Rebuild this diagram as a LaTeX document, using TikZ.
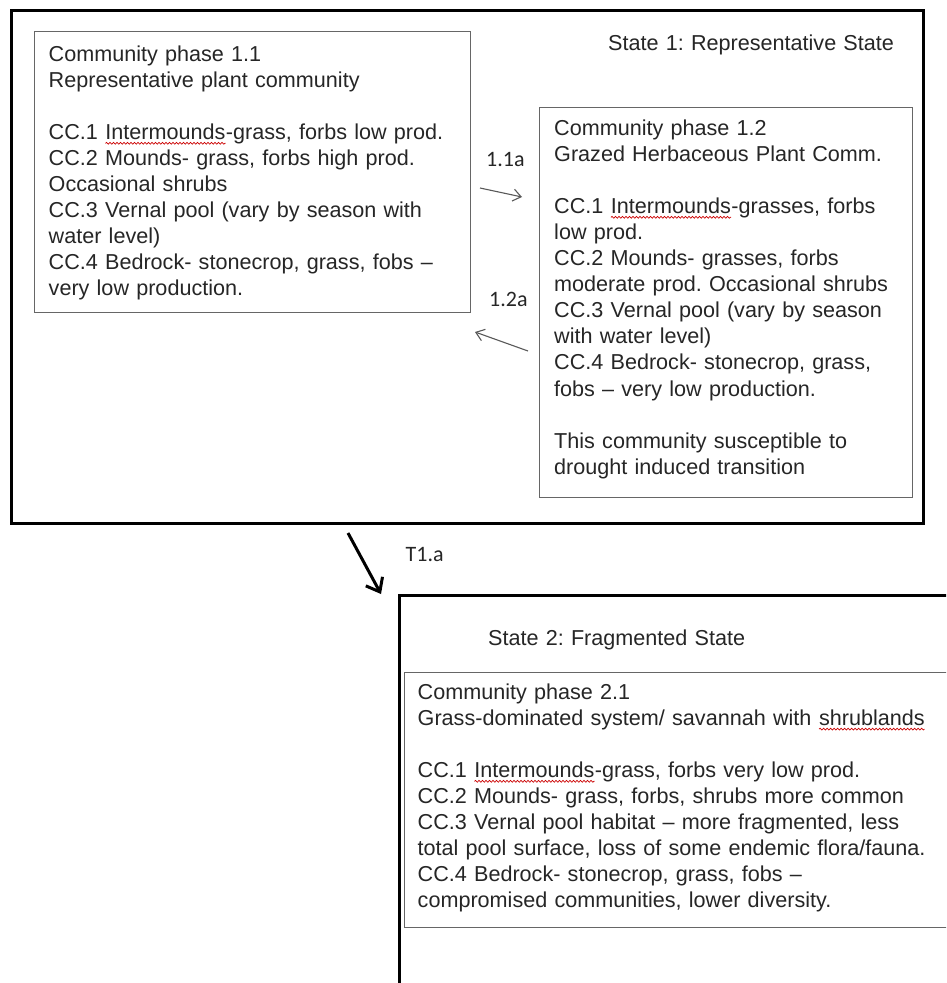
\documentclass[tikz,border=0pt]{standalone}
\usepackage{fontspec}
\setmainfont{Liberation Sans}
\newfontfamily\labelfont{Carlito}
\usetikzlibrary{arrows.meta,decorations.pathmorphing}
\newcommand\redsquig[1]{\tikz[baseline=(w.base),x=1pt,y=1pt]{%
  \node[inner sep=0pt,outer sep=0pt,text width={},anchor=base west,draw=none] (w) at (0,0) {#1};%
  \draw[red!80!black, line width=0.7pt, decorate, decoration={snake, amplitude=0.9pt, segment length=3.5pt}]
    ([yshift=-4pt]w.base west) -- ([yshift=-4pt]w.base east);}}
\begin{document}
\frenchspacing
\begin{tikzpicture}[x=1pt,y=-1pt,
  txt/.style={anchor=base west, text width=580pt, align=left, inner sep=0pt,
    font=\fontsize{21.6}{26.1}\selectfont\frenchspacing, text=black!85},
  lbl/.style={anchor=base west, inner sep=0pt,
    font=\labelfont\fontsize{22}{26}\selectfont, text=black!85},
  phasebox/.style={draw=black!60, line width=1.4pt, anchor=north west, inner sep=0pt},
  statebox/.style={draw=black, line width=3.4pt, anchor=north west, inner sep=0pt},
  thinarrow/.style={draw=black!65, line width=1.1pt, -{Straight Barb[length=8pt,width=12pt]}},
  thickarrow/.style={draw=black, line width=3pt, -{Straight Barb[length=12pt,width=19pt]}},
]
\useasboundingbox (0,0) rectangle (946,983);
\clip (0,0) rectangle (946,983);
\fill[white] (0,0) rectangle (946,983);

% State 1
\node[statebox, minimum width=912pt, minimum height=513pt] (s1) at (10,9) {};
\node[txt] (s1t) at (608,50) {State 1: Representative State};

\node[phasebox, minimum width=436pt, minimum height=281pt] (p11) at (34,31) {};
\node[txt] (p11t) at (48.5,61) {Community phase 1.1\\
Representative plant community\\[26.1pt]
CC.1 \redsquig{Intermounds}-grass, forbs low prod.\\
CC.2 Mounds- grass, forbs high prod.\\
Occasional shrubs\\
CC.3 Vernal pool (vary by season with\\
water level)\\
CC.4 Bedrock- stonecrop, grass, fobs --\\
very low production.};

\node[phasebox, minimum width=373pt, minimum height=390pt] (p12) at (539,107) {};
\node[txt] (p12t) at (554,135) {Community phase 1.2\\
Grazed Herbaceous Plant Comm.\\[26.1pt]
CC.1 \redsquig{Intermounds}-grasses, forbs\\
low prod.\\
CC.2 Mounds- grasses, forbs\\
moderate prod. Occasional shrubs\\
CC.3 Vernal pool (vary by season\\
with water level)\\
CC.4 Bedrock- stonecrop, grass,\\
fobs -- very low production.\\[26.1pt]
This community susceptible to\\
drought induced transition};

% transitions within state 1
\node[lbl] (l11) at (486,166.5) {1.1a};
\coordinate (a1s) at (480,188);
\coordinate (a1e) at (522,197);
\draw[thinarrow] (a1s) -- (a1e);

\node[lbl] (l12) at (489,306.5) {1.2a};
\coordinate (a2s) at (528,351);
\coordinate (a2e) at (475,332);
\draw[thinarrow] (a2s) -- (a2e);

% State 2
\node[statebox, minimum width=620pt, minimum height=440pt] (s2) at (398,594) {};
\node[txt] (s2t) at (488,645) {State 2: Fragmented State};

\node[phasebox, minimum width=570pt, minimum height=255pt] (p21) at (404,672) {};
\node[txt] (p21t) at (417.5,699) {Community phase 2.1\\
Grass-dominated system/ savannah with \redsquig{shrublands}\\[26.1pt]
CC.1 \redsquig{Intermounds}-grass, forbs very low prod.\\
CC.2 Mounds- grass, forbs, shrubs more common\\
CC.3 Vernal pool habitat -- more fragmented, less\\
total pool surface, loss of some endemic flora/fauna.\\
CC.4 Bedrock- stonecrop, grass, fobs --\\
compromised communities, lower diversity.};

% transition T1.a
\coordinate (ts) at (348,533);
\coordinate (te) at (381,594);
\draw[thickarrow] (ts) -- (te);
\node[lbl] (lt1) at (405.5,561.5) {T1.a};
\end{tikzpicture}
\end{document}
